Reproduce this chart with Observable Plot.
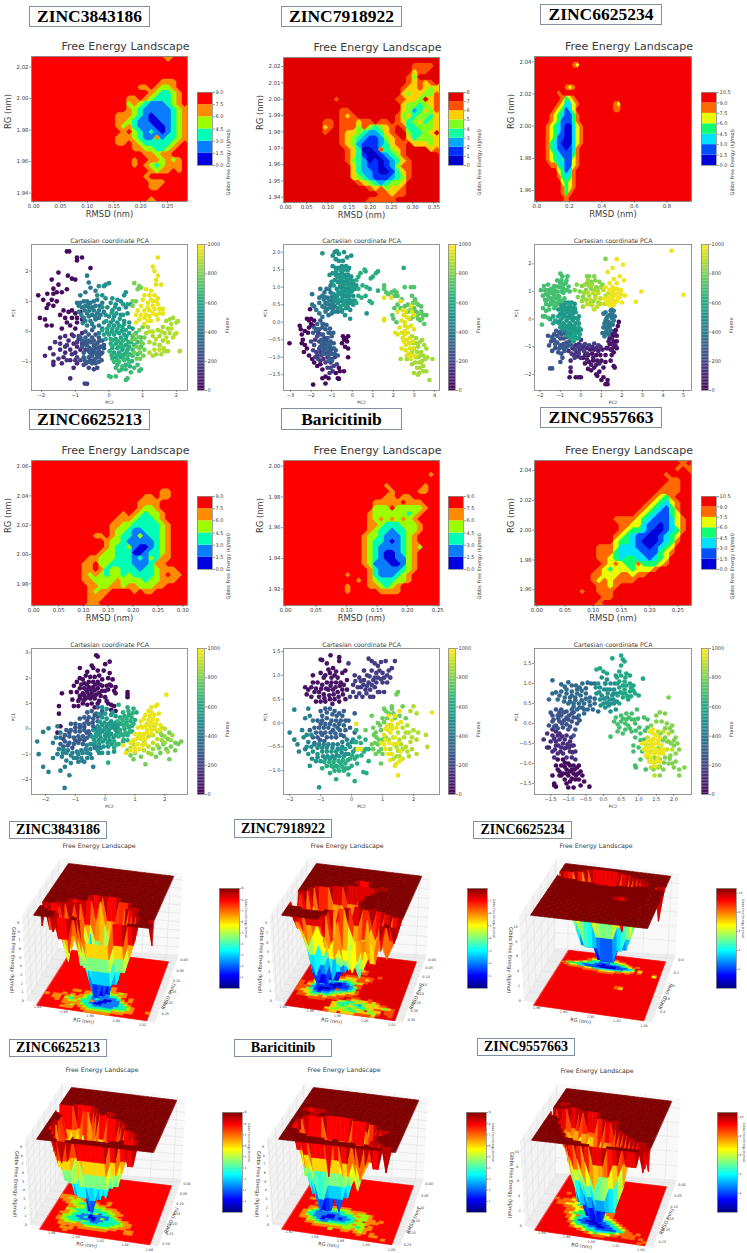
<!DOCTYPE html>
<html><head><meta charset="utf-8">
<script src="https://cdn.jsdelivr.net/npm/d3@7"></script>
<script src="https://cdn.jsdelivr.net/npm/@observablehq/plot@0.6"></script>
<style>
html,body{margin:0;padding:0;background:#fff}
#stage{position:relative;width:747px;height:1253px;overflow:hidden;background:#fff;font-family:"DejaVu Sans"}
.tag{position:absolute;box-sizing:border-box;border:1px solid #8090a4;background:#fff;color:#000;font-family:"Liberation Serif";font-weight:bold;text-align:center;white-space:nowrap}
</style></head><body><div id="stage"></div>
<script>
const names=["ZINC3843186","ZINC7918922","ZINC6625234","ZINC6625213","Baricitinib","ZINC9557663"];
const felLevels=[6,8,7,6,6,7];
const felSteps=[1.5,1,1.5,1.5,1.5,1.5];
const felCols=[28,28,42,28,28,28];
const felRows=26;
const rmsdDomains=[[-0.0043,0.2875],[-0.0047,0.3634],[-0.014,0.951],[-0.0046,0.3094],[-0.0033,0.2528],[-0.0041,0.2742]];
const rgDomains=[[1.9347,2.0268],[1.9367,2.0255],[1.9532,2.0433],[1.9652,2.0641],[1.9094,2.0037],[1.9494,2.0469]];
const rmsdTicks=[[0,.05,.1,.15,.2,.25],[0,.05,.1,.15,.2,.25,.3,.35],[0,.2,.4,.6,.8],[0,.05,.1,.15,.2,.25,.3],[0,.05,.1,.15,.2,.25],[0,.05,.1,.15,.2,.25]];
const rgTicks=[[1.94,1.96,1.98,2,2.02],[1.94,1.95,1.96,1.97,1.98,1.99,2,2.01,2.02],[1.96,1.98,2,2.02,2.04],[1.98,2,2.02,2.04,2.06],[1.92,1.94,1.96,1.98,2],[1.96,1.98,2,2.02,2.04]];
const rg3dTicks=[[1.94,1.96,1.98,2,2.02],[1.94,1.96,1.98,2,2.02],[1.96,1.98,2,2.02,2.04],[1.98,2,2.02,2.04,2.06],[1.92,1.94,1.96,1.98,2],[1.96,1.98,2,2.02,2.04]];
const palette6=["#0000e0","#0a7cff","#00ffb4","#9cff00","#ff8c00","#ff0000"];
const palette7=["#0000d8","#0050ff","#00e0ff","#10ff70","#e8ff00","#ff6a00","#f40000"];
const palette8=["#0000c8","#0030ff","#00a8ff","#10ffa0","#80ff20","#ffd000","#ff5000","#e00000"];
const jetStops=["#00007f","#0000ff","#007fff","#00ffff","#7fff7f","#ffff00","#ff7f00","#ff0000","#7f0000"];
const pcaXDomains=[[-2.3,2.33],[-3.34,4.24],[-2.26,5.39],[-2.47,2.76],[-2.2,2.84],[-1.96,2.5]];
const pcaYDomains=[[-1.95,2.88],[-1.95,2.22],[-2.58,2.7],[-2.59,3.17],[-1.5,1.563],[-1.775,1.875]];
const pcaXTicks=[[-2,-1,0,1,2],[-3,-2,-1,0,1,2,3,4],[-2,-1,0,1,2,3,4,5],[-2,-1,0,1,2],[-2,-1,0,1,2],[-1.5,-1,-.5,0,.5,1,1.5,2]];
const pcaYTicks=[[-1,0,1,2],[-1.5,-1,-.5,0,.5,1,1.5,2],[-2,-1,0,1,2],[-2,-1,0,1,2,3],[-1,-.5,0,.5,1,1.5],[-1.5,-1,-.5,0,.5,1,1.5]];
// sparse free-energy grids: [row, first column, level digits]; other cells hold the top level
const felA=[[0,24,"4"],[4,23,"444"],[5,19,"44"],[5,22,"4334"],[6,21,"432234"],[7,17,"4454322234"],[8,17,"3432111234"],[9,17,"43211111234"],[10,15,"4443210111234"],[11,15,"4432110011234"],[12,15,"4342111001234"],[13,16,"453212101234"],[14,15,"4443211412234"],[15,15,"445432222234"],[16,18,"44332234"],[17,20,"44344"],[18,18,"4"],[18,21,"443434"],[19,18,"454323444"],[20,21,"434454"],[21,20,"4"],[22,21,"444"],[23,21,"44"],[25,21,"4"]];
const felB=[[1,23,"6666"],[2,23,"566"],[3,22,"64"],[4,22,"65656"],[5,21,"6556545"],[6,21,"5455446"],[7,9,"6"],[7,20,"66554756"],[8,21,"5443456"],[9,10,"66"],[9,21,"5423546"],[10,10,"656"],[10,20,"64534435"],[11,7,"66"],[11,10,"666566"],[11,17,"66"],[11,20,"65345345"],[12,7,"56"],[12,10,"6664643456"],[12,21,"6334445"],[13,7,"6"],[13,10,"6554322356"],[13,22,"43345"],[14,10,"65432112456"],[14,22,"534445"],[15,10,"654211123566"],[15,23,"55545"],[16,11,"65300163456"],[16,26,"56"],[17,11,"65310012346"],[18,11,"643201012356"],[19,12,"53211012466"],[20,12,"53221001356"],[21,12,"54321112346"],[22,13,"654323445"],[23,15,"6564556"],[24,17,"66566"],[25,15,"66666"]];
const felC=[[1,10,"54"],[5,8,"545"],[6,6,"5"],[7,7,"5345"],[8,6,"542245"],[8,21,"54"],[9,5,"543124"],[9,21,"55"],[10,4,"54321135"],[11,4,"54311135"],[12,3,"5432100245"],[13,3,"5432100245"],[14,3,"5431100245"],[15,3,"5321000245"],[16,3,"532110125"],[17,3,"543211135"],[18,3,"543231145"],[19,4,"55321145"],[20,6,"43125"],[21,6,"53235"],[22,7,"4345"],[23,7,"5345"],[24,7,"535"],[25,8,"5"]];
const felD=[[5,23,"44"],[6,20,"44"],[6,23,"44"],[7,19,"4444"],[8,19,"4334"],[9,16,"4"],[9,18,"432334"],[10,15,"444322234"],[11,14,"44332222234"],[12,14,"43321122234"],[13,11,"44"],[13,14,"43221312234"],[14,13,"433211111234"],[15,13,"432231001234"],[16,12,"4332220012234"],[17,10,"443332221213244"],[18,9,"445332222111244"],[19,9,"44542332221223444"],[20,9,"434323323222234544"],[21,9,"44333343333233444"],[22,10,"44334434433344"],[23,10,"4344"],[23,18,"4544"],[24,10,"444"],[25,10,"44"]];
const felE=[[2,26,"4"],[4,18,"4"],[4,25,"4"],[5,19,"4"],[5,24,"44"],[6,18,"44"],[6,21,"44"],[7,16,"44444"],[7,22,"444"],[8,16,"3335333334"],[9,15,"4333333234"],[10,15,"434343434"],[11,15,"4432223334"],[12,15,"4322122334"],[13,14,"4332111234"],[14,14,"4322101234"],[15,14,"43211112343"],[16,14,"4321001234"],[17,14,"4321001134"],[18,14,"4311100134"],[19,15,"421111234"],[20,11,"4"],[20,15,"42111234"],[21,13,"4"],[21,15,"43222334"],[22,11,"4"],[22,15,"443234"],[23,11,"4"],[23,17,"4444"]];
const felF=[[0,26,"5"],[1,25,"5"],[1,27,"5"],[2,23,"5"],[3,24,"55"],[4,23,"555"],[5,22,"5555"],[6,21,"5435"],[7,20,"543245"],[8,19,"5432135"],[9,18,"54321134"],[10,14,"5555"],[10,18,"432111245"],[11,15,"55"],[11,17,"4421101245"],[12,15,"543321001235"],[13,14,"543211001234"],[14,14,"433210001235"],[15,11,"555"],[15,14,"42221101234"],[16,11,"555"],[16,14,"32222111345"],[17,11,"55"],[17,13,"43233221234"],[18,12,"545433533345"],[19,11,"54344434445"],[20,10,"5544455455"],[21,10,"54545555"],[22,11,"5545"],[23,8,"5"],[23,11,"555"],[24,12,"55"],[25,11,"5"]];
// PCA scatter points: [frame, PC2, PC1, PC2, PC1, ...]
const pcaA=[
[30,-1.25,2.65,-1.18,2.65,-.95,2.45,-.95,2.35,-.8,2.45,-.55,2.1,-1.5,1.95,-1.22,1.85,-1.7,1.72,-1.1,1.75,-1,1.72,-1.5,1.55,-1.65,1.42,-1.25,1.4,-1.4,1.3,-1.55,1.3,-1.65,1.25,-1.83,1.25,-2.1,1.2,-1.95,1.05,-1.7,1.05,-1.55,1,-1.8,.9,-1.65,.85,-1.85,.78,-2.05,.45,-1.9,.4,-1.85,.2,-1.7,.2,-1.45,.55,-1.35,.7,-1.3,.45,-1.2,.65,-1.1,.7,-1,.6,-.85,.65,-1.25,.3,-1.1,.45,-.95,.45,-1.15,.2,-.95,.3,-.8,.4,-1.4,.1,-1,.1],
[110,-1.75,-.55,-1.9,-.8,-1.65,-.75,-1.45,-.6,-1.3,-.7,-1.15,-.6,-1.65,-1,-1.65,-1.1,-1.4,-1.05,-1.35,-.85,-1.15,-.95,-1,-.7,-1.2,-.3,-1.05,-.4,-1.3,-.15,-1.1,-.1,-.9,-.25,-1.45,-.2,-.8,-.05,-1.15,-1.55,-.95,-1.05,-1.05,-1.2,-.85,-.6,-.95,-.5],
[150,-1.6,-.35,-1.45,-.4,-1.25,-.45,-1.1,-.75,-1.25,-.95,-1.5,-.9,-.95,-.35,-1.05,-.15,-1.3,-.5,-1,-.95],
[200,-.95,-.85,-.85,-.95,-.75,-1.1,-.6,-1.2,-.45,-1.25,-.35,-1.2,-.72,-1.72,-.65,-1.73,-.8,-.4,-.9,-.15,-.7,-.6,-.55,-.95],
[270,-.72,-.42,-.58,-.55,-.42,-.55,-.33,-.55,-.72,-.95,-.55,-.72,-.45,-.68,-.35,-.78,-.25,-.75,-.68,-.33,-.45,-.3,-.3,-.32,-.15,-.45,-.85,-.2,-.68,-1.05,-.45,-.95,-.22,-.95,-.15,-.55],
[290,-.8,-.3,-.7,-.2,-.6,-.1,-.5,-.2,-.4,-.1,-.3,-.2,-.2,-.3,-.8,-.5,-.65,-.45,-.55,-.35,-.45,-.45,-.35,-.4,-.25,-.5,-.75,-.7,-.6,-.65,-.5,-.6,-.4,-.7,-.3,-.65,-.2,-.7,-.75,-.85,-.6,-.85,-.5,-.8,-.4,-.9,-.3,-.85,-.6,-1,-.5,-1.05,-.4,-1.05,-.3,-1,-.6,-.3,-.7,0,-.5,.05],
[400,-.65,1.85,-.6,1.62,-.55,1.45,-.7,1.3,-.4,1.35,-.85,1.2,-.95,.95,-.85,.95,-.75,1,-.65,1,-.55,.95,-.45,1,-.8,.8,-.7,.85,-.6,.8,-.5,.8,-.4,.85,-.9,.65,-.65,.6,-.5,.55,-.35,.6,-.75,.45,-.55,.35,-.4,.4,-.3,.45,-.65,.2,-.45,.15,-.3,.2,-.2,.1,-.3,-.05],
[420,-.72,.7,-.58,.7,-.45,.7,-.3,.7,-.82,.55,-.7,.35,-.42,.5,-.25,.55,-.6,.5,-.15,.65,-.5,.25,-.78,.28,-.9,.85,-.28,.85,-.62,.9,-.35,1.05,-.2,.95],
[500,-.35,1.2,-.1,1.55,0,1.6,-.15,1.5,-.3,1.5,-.2,1.2,-.1,1.1,.1,1.1,.25,1.05,.45,1.2,.5,1.3,.35,1,.2,.9,.05,.95,-.05,.8,-.2,.8,.1,.7,.3,.75,.5,.8,.15,.5,.35,.55,0,.5,-.1,.55,.55,.6,.65,.9,-.15,.3,.05,.3,.25,.3,.45,.35,.6,.3],
[560,0,.2,.15,.2,.3,.2,.45,.25,-.08,.35,.12,.38,.32,.42,.42,.55,.08,.62,.22,.6,.18,.8,.42,.9,.55,.9,.6,.15,.7,.1,-.05,-.02,.08,0,.22,0,.38,.02,.52,-.15],
[590,-.2,.05,-.05,.1,.1,.1,.25,.1,.4,.15,.5,.05,-.15,-.1,0,-.1,.15,-.1,.3,-.05,.45,-.1,.6,-.05,-.1,-.25,.05,-.25,.2,-.25,.35,-.2,.5,-.25,.05,-.4,.2,-.4,.35,-.4,.5,-.45,.65,-.35,.1,-.55,.25,-.55,.4,-.6,.55,-.6,.15,-.7,.3,-.7,.45,-.75,.2,-.85,.35,-.85],
[640,.12,-.28,.28,-.32,.42,-.3,.58,-.35,.1,-.48,.3,-.5,.42,-.5,.6,-.5,.02,-.65,.08,-.78,.25,-.78,.38,-.78,.52,-.68,.62,-.75,.1,-.9,.25,-.95,.42,-.88,.55,-.9,.68,-.98,.25,-1.1,.38,-1.25,.62,-1.15,.5,-1.1],
[680,0,-1.47,.05,-1.5,.2,-1.48,.5,-1.6,.55,-1.55,.2,-1.2,.3,-1.3,.4,-1.15,.5,-1.25,.65,-1.35,.15,-1,.3,-1,.45,-.95,.6,-1,.7,-.8,.55,-.8,.75,-1.2,.85,-1.1,.95,-1.25,.9,-1.3,.7,-.6,.85,-.75,.75,-.45,.85,-.35,.95,-.2,.7,-.15,.8,-.05,.95,-.5],
[780,.78,-.25,.88,-.18,.68,-.28,.82,-.5,.95,-.35,.75,-.7,.92,-.7,1.02,-.8,.82,-.9,.92,-.9],
[790,.7,.85,.8,1,.75,1.6,.85,1.4,.9,1.5,.95,1.45,.7,1,.75,-.1,.9,.05,1,.15,1.05,-.2,1,-.4,.9,-.55,1.05,-.6],
[870,1.2,-.7,1.3,-.8,1.4,-.75,1.55,-.75,1.65,-.65,1.75,-.65,2.1,-.65,1.2,-.35,1.35,-.4,1.5,-.45,1.6,-.3,1.5,-.15,1.3,-.15,1.65,-.05,1.8,-.05,1.95,-.1,1.75,.1,1.6,.15,1.85,.25,2,.3,1.9,.45,2.05,.35,1.7,.35,1.8,.4,1.45,.05,1.1,-.05,1.15,.15],
[900,1.35,-.6,1.5,-.6,1.62,-.55,1.75,-.35,1.9,-.2,2,-.05,1.55,0,1.4,-.25,1.85,.1,1.2,0,1.7,-.2,1.3,0],
[960,1.45,2.45,1.3,2.15,1.35,2,1.45,1.85,1.4,1.7,1.4,1.55,1.55,1.55,1.25,1.35,1.1,1.4,1.05,1.2,1.2,1.2,1,1.05,1.15,.95,1.3,1,1.45,1.1,1.6,.75,.85,.7,1.05,.7,1.2,.7,1.35,.75,1.5,.75,1.4,.55,1.2,.5,1.05,.45,1.6,.6,.9,.4,1.05,.25,.8,.3,1.25,.35,1.45,.4],
[970,1.15,.8,1.3,.85,1.45,.9,.95,.85,1.1,.55,1.3,.6,1.5,.6,1.15,.35,.95,.55,1.35,1.2,1.25,1.05,1.4,1,.8,.55]];
const pcaB=[
[20,-3.05,-.6,-2.55,-.1,-2.5,-.2,-2.45,-.35,-2.3,-.25,-2.15,-.3,-2.4,-.5,-2.45,-.6,-2.3,-.65,-2.2,-.75,-2.35,-.85,-2.1,-.15,-2,-.05,-2.1,.05,-2,.1,-1.85,.05,-1.9,-.1,-2.2,.1,-2.05,.37,-2.1,-.95,-1.95,-1.05,-1.85,-1.15,-1.7,-1.25,-1.55,-1.2,-1.45,-1.35,-1.3,-1.55,-1.15,-1.6,-1.9,-1.78,-1.45,-1.6,-1.3,-1.75,-.8,-1.45,-.7,-1.6,-.65,-1.62,-.4,-1.4,-.45,-.4,-.4,-.5,-.3,-.45,-.5,-.6,-.35,-.7,-.25,-.55,-.2,-.75,-.2,-.4,-.2,-1,-.6,-1.4,-.65,-1.3],
[150,-1.65,-.3,-1.8,-.5,-1.4,-.6,-1.25,-.55,-1.55,-.85,-1.7,-.95,-1.2,-1,-1.4,-1.05,-1.05,-1.15,-1.55,-1.1,-.95,-1.4,-1.1,-1.45],
[200,-2,-.55,-1.85,-.65,-1.7,-.4,-1.6,-.55,-1.5,-.35,-1.35,-.45,-1.9,-.8,-1.75,-.85,-1.6,-.75,-1.45,-.7,-1.3,-.65,-1.15,-.6,-1.8,-1,-1.65,-1.05,-1.5,-.95,-1.35,-.9,-1.2,-.85,-1.05,-.8,-1.3,-1.15,-1.15,-1.1,-1,-1.05,-.85,-1,-1.2,-1.3,-1.05,-1.3,-.9,-1.25,-.75,-1.2],
[290,-1.9,-.3,-1.75,-.25,-1.6,-.2,-1.45,-.15,-1.3,-.2,-1.15,-.3,-1,-.4,-1.5,-.5,-1.35,-.55,-1.2,-.45,-1.05,-.55,-.9,-.6,-1.55,-.7,-1.4,-.8,-1.25,-.75,-1.1,-.7,-.95,-.75,-.8,-.8,-1.15,-.95,-1,-.9,-.85,-.9,-.7,-.95,-1.1,-.3,-1.7,-.05,-1.55,.05,-1.4,-.05],
[310,-1.42,-.35,-1.2,-.6,-1.08,-.65,-1.48,-.6,-1.32,-.7,-1.18,-.8,-1.05,-.9,-.88,-.75,-1.7,-.2,-1.85,-.15,-1.45,-.05,-1.25,-.08,-1.08,-.18,-.92,-.3,-1.42,-.9,-.98,-1.1,-1.12,-1.08],
[390,-1.95,.8,-1.95,.5,-1.85,.45,-1.75,.35,-1.6,.25,-1.45,.15,-1.3,.3,-1.15,.2,-1,.25,-1.6,.55,-1.45,.45,-1.3,.55,-1.6,.7,-1.45,.75,-1.55,.95,-1.35,.85,-1.2,.7,-1.1,.5,-1.25,.95,-1.05,.85,-.95,.6,-.95,.35,-.85,.45,-1.05,1.05,-.7,.3],
[420,-1.35,.42,-1.2,.38,-1.02,.42,-.85,.3,-1.38,.65,-1.22,.52,-1.12,.62,-1.35,.72,-1,.72,-.92,.5,-1.12,.95,-.82,.7],
[500,-1.45,1.97,-.95,1.9,-.85,2,-.75,2.03,-.65,1.95,-.4,2,-.25,1.85,-.05,1.9,-.8,1.8,-.65,1.75,-.45,1.75,-.95,1.6,-.8,1.55,-.65,1.55,-.5,1.6,-.3,1.6,-.15,1.55,-1.1,1.35,-.95,1.4,-.8,1.35,-.65,1.35,-.5,1.4,-.35,1.35,-.2,1.35,-.05,1.3,-1,1.15,-.85,1.2,-.7,1.15,-.55,1.2,-.4,1.15,-.25,1.15,-.1,1.1,.05,1.1,.2,1.05,-.75,.95,-.6,1,-.45,1,-.3,.95,-.15,.95,0,.9,-.9,.8,-.75,.75,-.6,.8,-.45,.8,-.3,.75,-.15,.75,.05,.75,-.85,.6,-.7,.55,-.55,.6,-.4,.6,-.25,.55,-.1,.55,.05,.5,-.7,.4,-.5,.35,-.3,.4,-.35,.2,-.5,.3,-.1,.35,-.1,.1,.7,.25],
[540,-.68,.85,-.52,.9,-.38,.88,-.22,.85,-.08,.85,.12,.95,-.58,1.1,-.42,1.08,-.3,1.08,-.18,1.05,-.02,1.02,.12,.98,-.72,1.28,-.58,1.28,-.42,1.28,-.28,1.25,-.12,1.22,.02,1.18,-.9,1.05,-.78,1.45,-.55,1.48,-.4,1.5,-.22,1.48,-.7,.65,-.48,.7,-.32,.62,-.18,.65,-.02,.62,.12,.62,-.58,.45,-.42,.5,-.22,.45],
[620,.6,1.5,.65,1.45,.4,1.4,.3,1.3,.2,1.2,.3,.95,.5,1.05,.7,1,.85,.95,.3,.75,.45,.7,.65,.75,.85,.6,.95,.55,.2,.55,1,1.3,1.15,1.4,1.25,1.45,.9,1.25,1.25,.9,2.5,1.55],
[730,1.55,1.05,1.55,.95,1.65,.85,1.75,.8,1.9,.85,2.05,.9,2.15,.85,2.2,.75,2.05,.75,2.4,.65,2.55,1,2.85,1,3,1,2.9,.75,3.05,.65,2.7,.5,3.2,.5,3.35,.45,3,.4,3.1,.3,3.35,.3,3.45,.2,3.6,.2,2.7,.3,2.55,.45,2.35,.4,2.2,.5,2.05,.4,1.95,.2,2,.1,2.15,0,3.2,.1,3.3,.05,3.5,-.05],
[780,3.1,.55,2.95,.55,2.85,.4,3.25,.25,3.15,.18,2.95,.15,2.85,.1,3.4,.1],
[860,2.9,-.4,3.1,-.45,3.3,-.55,3.4,-.5,3.5,-.65,3.2,-.7,3,-.75,2.8,-.6,3.15,-.85,3.35,-.85,3.6,-.75,3.2,-1,3.4,-1.1,3.55,-1.05,3.65,-1,3.9,-1.05,3.3,-1.3,3.45,-1.25,3.6,-1.4,3.45,-1.4,3.25,-1.45,3,-1.45,3.2,-1.5,3.75,-1.65,3.05,-1.15,2.9,-1.2,2.65,-1.05,2.35,-1.05],
[870,2.95,-.6,3.05,-.6,3.2,-.6,2.9,-.85,3.3,-.95,3.1,-1,3.25,-1.15,3.45,-.95,3.15,-1.3,3.35,-1.15],
[950,1.55,.7,1.55,.1,1.55,.05,1.9,.7,2.2,.3,2.35,.6,2.5,.2,2.6,.3,2.75,.1,2.9,.3,3,.2,2.4,.05,2.55,0,2.3,-.15,2.4,-.3,2.55,-.25,2.7,-.3,2.65,-.5,2.5,-.55,2.8,-.75,2.6,-.8,2.4,-.75,2.65,-.95,2.85,-.95,2.95,-.55,3.05,-.95,2.2,-.35,2.1,-.3,3,-.2,2.45,-.45,2.6,-.65,2.75,-.6,2.8,-.45,2.55,-.1,2.7,-.15,2.85,-.1,2.75,-.9,2.95,-.75,2.85,-1.05,2.55,-.35,2.45,.35,2.65,.15,2.85,.45]];
const pcaC=[
[40,1.2,-2.35,1.3,-2.35,1.3,-2.2,1.1,-2.1,1,-2.2,.8,-2.05,.75,-2,.5,-1.85,.35,-1.8,.65,-1.75,.9,-1.9,1.1,-1.75,1.6,-1.7,1.65,-1.75,1.2,-1.55,1,-1.5,.8,-1.5,.6,-1.5,.4,-1.55,.2,-1.6,.1,-1.4,.35,-1.3,.55,-1.25,.75,-1.3,.95,-1.3,1.2,-1.3,1.45,-1.5,1.5,-1.3,1.6,-1.2,1.45,-1.1,1.25,-1.05,1.6,-1,1.75,-1.05,1.4,-.9,1.6,-.8,1.75,-.8,1.4,-.7,1.6,-.6,1.75,-.6,1.55,-.45,1.7,-.4,1.45,-.55,1.8,-.25,1.85,-.1,-.5,-1.9,-.55,-2.1,-.25,-2.1,0,-2.1,-.1,-2.1],
[80,1.3,-1.05,1.35,-.55,1.5,-.7,1.55,-.9,1.68,-.95,1.65,-.5,1.35,-.8,1.5,-1.1,1.05,-1.1,.85,-1.15,.65,-1.1,.45,-1.1,.2,-1.3,.6,-1.4,.9,-1.6,.75,-1.65,.5,-1.65,.3,-1.45],
[120,-.5,-1.75,-.5,-1.5,-.35,-1.3,-.2,-1.2,-.05,-1.1,.1,-1,.3,-1.05,.55,-1,.75,-1.05,.95,-1,.3,-1.25,-.15,-1.35,0,-1.4,-.6,-1.15,-.4,-1.05,-.25,-.95,-.1,-.9,0,-.75],
[180,-.3,-1.1,-.15,-1,0,-.95,.15,-1.15,-.45,-1.25,-.3,-1.4,.4,-.95,.65,-.88,.85,-.95,-.1,-1.25,.2,-.9],
[250,-1.5,-1.78,-1.4,-1.78,-1,-1.55,-.9,-1.4,-1.1,-1.2,-.95,-1.25,-.8,-1.15,-1.4,-1.15,-1.25,-1.05,-1.55,-.95,-1.6,-.6,-1.45,-.8,-1.3,-.75,-1.15,-.85,-1,-.95,-.85,-.9,-.7,-.85,-.55,-.8,-1.3,-.55,-1.15,-.6,-1,-.7,-.85,-.7,-.7,-.65],
[290,-1.2,-.42,-1.05,-.48,-.95,-.55,-.78,-.52,-.65,-.5,-1.4,-.65,-1.25,-.9,-1.05,-1.05,-.85,-1.05,-.7,-1,-.6,-.95,-.45,-.95],
[380,1.1,.2,1.3,.1,1.45,.3,1.6,.3,1.2,-.05,1.35,-.1,1.5,.05,1.65,.1,1.1,-.3,1.25,-.3,1.4,-.3,1.55,-.2,1.05,-.5,1.2,-.5,1.35,-.55,1.5,.35,-.9,-.4,-.7,-.45,-.5,-.55],
[400,1.2,.25,1.4,.15,1.55,.15,1.25,.02,1.15,-.15,1.3,-.2,1.45,-.15,1.6,-.05,1.45,-.42,1.25,-.42,1.15,-.62],
[530,-1.15,-.1,-1,-.05,-.85,-.15,-.7,-.05,-.55,-.15,-.4,-.05,-.25,-.15,-1,.2,-.85,.15,-.7,.25,-.55,.15,-.4,.2,-.25,.25,-.1,.1,-1.1,.35,-.95,.4,-.8,.45,-.65,.4,-.5,.45,-.35,.4,-1,-.3,-.85,-.35,-.7,-.3,-.55,-.35,-.4,-.3,-.25,-.35,-.1,-.15,-.6,.6,-.45,.6,-.3,.55,-.75,.6],
[550,-1.1,.1,-.9,.05,-.75,.1,-.6,.05,-.45,.05,-.3,.05,-.15,0,-1.05,-.15,-.92,-.25,-.78,-.22,-.62,-.25,-.48,-.22,-.32,-.25,-.6,-.45,-.42,-.42,-.25,-.48,-.12,-.45,0,-.38,-.7,-.6,-.55,-.6,-.42,-.65,-.28,-.65,-.1,-.68,-.9,.3,-.72,.33,-.58,.3,-.42,.32,-.28,.38,-.98,.52,-.82,.58,-.6,.42,-.5,.25],
[580,-.2,-.5,-.35,-.55,-.5,-.7,-.35,-.8,-.2,-.7,-.05,-.55,-.6,.55,-1.35,.1,-1.35,-.15,-1.5,0,-1.8,.1,-.1,-.3,-1.25,-.05],
[700,-1.95,1.05,-1.8,1.2,-1.6,1.25,-1.45,1.1,-1.3,1.2,-1.15,1.4,-1,1.65,-.9,1.55,-.95,1.4,-.65,1.55,-.7,1.4,-.85,1.25,-1,1.15,-1.15,1,-1.3,.95,-1.5,.95,-1.7,.9,-1.85,.85,-1.65,.7,-1.45,.75,-1.25,.75,-1.05,.8,-.85,.95,-.7,1.05,-.55,1,-1.15,.6,-.95,.65,-.8,.75,-1.55,.5,-1.4,.55,-1.85,.4,-1.7,.3,-1.9,-.2,-1.85,.1,-1.75,.1,-1.6,.05,-1.3,.4,-1.6,1.05,-1.3,1.05,-1.15,1.18,-1.42,.95,-.95,1,-1.75,1.05,-1.6,.85,-1.3,.85,-1.1,.85,-1.45,.62,-1.2,.5,-1.05,.72,-1.7,.55,-1.55,.35,-1.35,.62,-1.75,.7,-.85,1.1,-.6,1.18,-.75,1.3,-1,1.3],
[810,1.2,2.18,.3,1.55,.4,1.55,.65,1.55,.7,1.4,.5,1.35,.3,1.3,.05,1.2,-.2,1.25,-.3,1.05,-.05,1,.25,1.05,.5,1.1,.75,1.15,.9,1.35,1.05,1.25,-.15,.8,.1,.8],
[850,.2,1.25,.4,1.2,.55,1.25,.65,1.05,.8,1.05,.15,.95,.4,.85,.7,.85,.05,.65,.25,.7,.45,.55,.6,.65,.85,.6,.1,.45,.95,1.15,.35,1.4],
[900,.35,.95,.6,.95,.85,.95,.45,.7,.7,.75,.95,.75,.3,.55,.55,.5,.8,.45,1.1,1.05,1.2,.85,1.35,.95,.95,.55,1.15,.55,.65,.35],
[975,4.42,2.47,5,.88,2.95,1,2.68,.63,1.75,2.17,2.05,1.97,1.55,1.85,1.3,1.7,1.9,1.55,1.6,1.45,1.4,1.3,2.1,1.4,1.75,1.3,1.55,1.15,1.75,1.1,1.95,1.05,2.15,.85,1.5,.95,1.7,.9,1.9,.8,1.35,.75,1.55,.7,1.75,.65,2,.6,1.4,.5,1.2,1.15,1.3,.55,1.6,.5,1.4,1.05,1.6,1.05,1.85,1,1.45,.82,1.6,.85,1.8,.75,1.35,.62,1.5,.6,1.65,.6,1.15,.75,1.25,.65,1.95,.9]];
const pcaD=[
[30,-.3,2.9,-.25,2.85,.15,2.65,0,2.55,-.45,2.5,-.85,2.4,-.4,2.4,-.6,2.25,-.25,2.3,-.05,2.3,.15,2.2,-.85,2,-.75,1.95,-.65,2.1,-.5,2.05,-.35,2.05,-.2,2.1,-.1,1.95,.1,2,.25,1.95,-.95,1.85,-.7,1.8,-.55,1.85,-.4,1.85,-.25,1.85,-.1,1.7,.05,1.7,.2,1.7,.35,1.65,-1.05,1.7,-.85,1.6,-.7,1.6,-.55,1.65,-.4,1.65,-.25,1.6,-.1,1.5,.1,1.55,.3,1.5,-1.45,1.4,-1.15,1.45,-.95,1.45,-.75,1.4,-.6,1.45,-.45,1.4,-.3,1.35,-.15,1.3,0,1.25,.75,1.45,.75,1.35,.75,1.25,-1.1,1.15,-.85,1.2,-.65,1.2,-.5,1.2,-.35,1.2,-.2,1.1,-1.55,.9,-1.55,.6,-1.05,.9,-.9,.9,-.75,1,-.6,.95,-.45,1,-.35,.85,.1,1,.2,.95,.3,.9,.2,.75,.35,.7,-1.5,.1,-1.6,-.15],
[50,-.8,1.75,-.62,1.75,-.32,1.75,-.48,1.55,-.18,1.75,-.62,1.52,-.35,1.52,-.85,1.3,-.55,1.32,-.4,1.28,-.2,1.42,0,1.5,.15,1.75,-.7,1.3,-.9,1.1,-.72,1.12,-.25,1,.05,1.1,.35,1.4],
[250,-.35,0,-.5,-.25,-1.4,-.7,-1.25,-.65,-1.1,-.75,-1,-.45,-.85,-.42,-.7,-.45,-.62,-.15,-1.4,-.4,-1.2,-.15,-1,.05,-.85,.05,-.7,.08,-.6,.32,-.42,.25,-.35,.55,-.25,.48,-.15,.55],
[300,-1.5,-.6,-1.35,-.5,-1.2,-.55,-1.05,-.6,-.9,-.55,-.75,-.6,-1.5,-.35,-1.35,-.25,-1.2,-.3,-1.05,-.35,-.9,-.3,-.75,-.3,-.6,-.35,-1.3,-.05,-1.15,-.05,-1,-.1,-.85,-.1,-.7,-.05,-.55,-.1,-1.15,.2,-1,.2,-.85,.15,-.7,.2,-.55,.2,-.4,.1,-.85,.4,-.7,.45,-.55,.45,-.4,.4,-.25,.3,-.6,.65,-.45,.7,-.3,.6,-.25,.85,-.1,.7],
[420,-2.28,-.5,-2.23,-1,-2.08,-1.5,-1.9,-1.7,-2.08,-.12,-1.9,.02,-1.36,-2.33,-1.2,-1.83,-1.5,-1.65,-1.35,-1.5,-1.75,-1.15,-1.6,-1,-1.45,-1.1,-1.3,-1.25,-1.15,-1.35,-1.55,-.8,-1.4,-.8,-1.25,-.85,-1.1,-.95,-.95,-.9,-.8,-.85,-.65,-.8,-.5,-.8,-.35,-.75,-.95,-1.15,-.8,-1.15,-.7,-1.3,-.4,-1.5,-1.75,-.55,-1.65,-.35,-1.5,-.15,-1.6,.1,-.9,-1.3],
[440,-1.15,-1.05,-1.05,-1.15,-.9,-1,-.75,-.95,-.6,-.95,-.5,-1,-.6,-1.15,-.78,-1.25,-.45,-1.15,-1.3,-.95,-1.42,-.95,-.2,-.95,-.28,-.7,-.4,-.62,-.15,-.75,-.62,-.65],
[520,-.5,-.6,-.35,-.55,-.2,-.6,-.05,-.7,.1,-.7,-.45,-.3,-.3,-.3,-.15,-.35,0,-.4,.15,-.45,-.4,-.05,-.25,-.1,-.1,-.1,.05,-.15,.2,-.2,-.25,.1,-.1,.15,.05,.1,.2,.05,.35,-.05,-.1,.45,.05,.4,.2,.3,.35,.25,.5,.2,-.1,.85,.3,-.9,.1,-.95,-.1,-.95,-.25,-.85],
[540,-.38,-.42,-.22,-.45,-.08,-.5,.08,-.55,.22,-.6,-.3,-.2,-.18,-.2,0,-.25,.12,-.3,.28,-.35,-.18,0,-.02,0,.12,-.05,.28,.05,.42,.05,-.18,.28,-.02,.25,.12,.2,.25,.15,.38,.12,-.2,.58,0,.6,.2,.55,.35,.5,.05,.78,.25,.65,.12,-.18,.4,-.12],
[610,.3,-.75,.45,-.6,.6,-.5,.3,-.5,.45,-.3,.6,-.25,.75,-.25,.35,-.25,.5,-.05,.65,0,.8,.05,.9,-.1,.55,.2,.7,.25,.85,.3,1,.35,.5,.45,.65,.5,.8,.55,1.05,.65,.45,.95,.75,.85,.95,.8,.1,-1.33],
[640,.52,-.2,.68,-.15,.82,-.12,.95,.2,.62,.12,.75,.15,.9,.12,.42,.3,.58,.35,.72,.4,.88,.45,.6,.65,.78,.7,.92,.62,.62,-.42,.75,-.45,.9,-.55,.38,-.62],
[780,.75,-.85,.85,-1.05,.95,-1.2,1,-.95,1.35,-1.4,1.2,-1.1,2.15,-1.2,2.35,-.85,2.45,-.6,2.55,-.5,2.35,-.55,2.2,-.7,2.05,-.8,1.85,-.95,1.7,-1.1,2.1,-.4,1.95,-.6,1.8,-.75,1.9,-.25,2.15,-.15],
[850,1.9,-.45,1.75,-.65,1.6,-.8,1.45,-.95,2,-.55,2.2,-.45,2.25,-.25,1.85,-.15,2,-.3,1.55,-1,2.1,-.9],
[900,1.75,-.4,1.6,-.55,1.45,-.7,1.3,-.55,1.3,-.85,1.6,-.25,1.45,-.3,1.75,-.1,1.9,.05,2,0,1.65,.1,.85,-.75,.95,-.6],
[965,2.05,1.35,1.75,.95,1.7,.9,1.55,.85,1.45,.7,1.8,.6,1.65,.55,1.5,.5,1.35,.55,1.2,.3,1.4,.2,1.55,.25,1.7,.2,1.85,.15,1.1,.05,1.25,.05,1.4,-.05,1.55,-.05,1,-.2,1.15,-.2,1.3,-.2,1.05,-.4,1.2,-.4,1.35,-.4,.85,-.55,1,-.75,1.15,-.8,.7,-.95,.6,-.65,1.2,.1,1.35,.1,1.5,.1,1.65,0,1.8,-.05,1.3,.4,1.45,.35,1.6,.38,1.75,.35,1.1,-.35,1.25,-.3,1.4,-.18,1.55,-.18,.95,-.45,1.1,-.6,1.25,-.65,1.35,-.6,1,-.9,.85,-.85,1.55,.65]];
const pcaE=[
[40,-1,1.33,-.95,1.32,-.68,1.42,-.4,1.38,-.4,1.3,-.8,1.25,-.6,1.15,-.75,1.12,-1.25,1,-1,1.05,-.85,1,-.7,1.05,-.55,1,-.3,1.05,-.2,1.1,-1.5,.75,-1.4,.7,-1.25,.85,-1.1,.85,-.95,.8,-.8,.85,-.65,.85,-.5,.85,-.35,.85,-.15,.9,-1.45,.6,-1.2,.65,-1.05,.65,-.9,.6,-.75,.7,-.6,.7,-.45,.65,-.3,.7,-.15,.7,-1.15,.45,-1,.45,-.85,.45,-.7,.5,-.55,.5,-.4,.45,-.2,.5],
[60,-1.3,.75,-1.15,.72,-.98,.72,-.82,.72,-.68,.78,-.52,.75,-.38,.78,-.25,.8,-1.05,.55,-.88,.52,-.72,.58,-.58,.6,-.42,.55,-.28,.6,-.9,.95,-.65,.95,-.45,.95,-1.3,.55,-.62,.4,-.5,1.08],
[170,-.1,1.25,.1,1,.25,.95,.4,1.1,.55,1.35,.65,1.3,.75,1.25,.85,1.2,.95,1.28,1.1,1.3,1.4,1.3,1.2,1.1,1.3,1.15,1,1.05,.8,1.05,.65,1.1,.5,1,.4,.9,.55,.85,.7,.9,.85,.95,1,.85,1.15,.85,.3,.75,.45,.7,.6,.7,.75,.75,.9,.65,.05,.8,.2,.75,.15,.55,.35,.55,.6,.55,.7,.55,1.05,.65],
[190,.05,.65,.25,.62,.38,.8,.5,.78,.65,.8,.8,.85,.95,.92,.12,.88,.3,.88,.58,.98,.75,.95,.9,1.1,1.05,.95,1.15,1,.48,.62,.85,.65,-.05,.55,1.25,.95],
[300,-1,.25,-.85,.3,-.7,.3,-.55,.25,-.4,.2,-.25,.25,.1,.2,-1.1,.05,-.95,.05,-.8,.1,-.65,.05,-.5,.05,-.35,.05,-.2,.05,-1.2,-.1,-1.05,-.1,-.9,-.1,-.75,-.1,-.6,-.15,-.45,-.1,-1.35,-.15,-1.25,-.3,-1.1,-.3,-.95,-.25,-.8,-.3,-.65,-.3,-.5,-.3,-.35,-.25,-.2,-.15,-.05,-.1,.1,-.2],
[310,-.95,.15,-.8,.22,-.62,.18,-.48,.15,-.3,.15,-1,-.02,-.85,-.02,-.7,-.02,-.55,-.05,-.4,-.02,-.25,-.05,-.1,.05,-1.15,-.2,-1,-.2,-.85,-.2,-.68,-.2,-.52,-.22,-.38,-.15,-.25,-.28,-1.2,-.42,-1.02,-.36,-.88,-.38],
[430,-1.85,.28,-2,-.2,-1.6,-.15,-1.85,-.35,-1.75,-.45,-1.4,-.4,-1.5,-.55,-1.7,-.6,-1.2,-.45,-1.05,-.45,-.9,-.45,-.75,-.45,-.6,-.45,-.45,-.45,-.3,-.4,-.15,-.35,-1.35,.15,-1.5,.1,-1.4,.3,-1.25,.05],
[480,-1.3,-.25,-1.45,-.25,-1.55,-.3,-1.3,-.5,-1.45,-.5,-1.1,-.52,-.95,-.52,-.8,-.52,-.62,-.52,-.45,-.55,-.3,-.5,-.12,-.45,0,-.4,-1.28,-.75,-1.1,-.72,-.92,-.7,-.78,-.7,-.62,-.7,-.48,-.68,-.32,-.62,-.18,-.65,.05,-.35],
[540,-1.4,-.65,-1.25,-.6,-1.1,-.65,-.95,-.6,-.8,-.6,-.65,-.6,-.5,-.6,-.35,-.55,-.2,-.55,-.05,-.5,-1.15,-.8,-1,-.8,-.85,-.75,-.7,-.75,-.55,-.75,-.4,-.7,-.25,-.7,-1.35,-.9,-.1,-.65,.05,-.6,-1.05,-1.35],
[620,-.95,-.95,-.8,-.9,-.65,-.9,-.5,-.9,-.35,-.85,-.2,-.85,-.05,-.75,.1,-.75,.2,-.55,.3,-.55,.4,-.6,.55,-.55,-.7,-1.05,-.55,-1,-.4,-1,-.25,-1,-.1,-.95,-.5,-1.18,-.1,-1.08,.1,-1.22,.38,-1.03,.48,-1.05,.55,-.8,.1,-.4,.25,-.3,.45,-.35,.15,-.15,-.88,-.82,-.72,-.82,-.58,-.82,-.42,-.8,-.28,-.78,-.12,-.78,.02,-.68,.18,-.7,.32,-.68,.45,-.55,-.6,-.92,-.45,-.92,-.3,-.92,-.18,-.95,0,-.9,.12,-.55,.15,-.4,.3,-.42,.18,-.85],
[770,.65,-.45,.8,-.3,.95,-.15,.7,-.1,.85,0,1,.1,1.15,.1,1.3,.3,1.45,.6,1.5,.65,1.65,.35,1.3,.35,.95,-.55,.7,-.55,.85,-.45,.65,.15,.45,-.15,1,-.35,1.25,-.05,1.1,-.3,1.4,.1,1.55,.15,1.75,.1,.95,-.85,.75,-.42,.88,-.35,.78,-.2,.92,-.05,1.05,.02,1.1,.25,1.2,.2,1.35,.2,.88,-.6,1,-.65,.78,-.65,.72,-.25,1.05,.3],
[880,1.2,-.35,1.35,-.3,1.5,-.2,1.65,-.1,1.8,-.05,1.9,.25,2,.35,2.1,.2,2,-.15,2.15,-.2,2.1,-.35,2.4,-.25,2.45,-.5,1.9,-.4,1.75,-.5,1.6,-.45,1.45,-.5,1.85,-.7,2.1,-.65,1.65,-.75,1.45,-.7,1.25,-.55,1.55,-.35,1.7,-.3,1.85,-.2,1.95,-.3,1.5,-.58,1.65,-.55,1.4,-.45,1.8,-.6,1.55,-.7,1.35,-.75,1.95,-.55,1.75,-.2],
[965,2.6,.22,.15,-.02,.2,-.55,.3,-.55,1.15,-.05,1.3,-.05,1.45,-.1,1.6,.02,1.2,.15,1.4,.15,1.55,.25,1.05,-.25,1.25,-.2,1.4,-.3,1.1,-.55,1.3,-.65,1.45,-.85,1.4,-.9,1.55,-.8,1.5,-1.1,1.6,-.75,1.05,-.45,1.18,-.15,1.32,-.12,1.5,-.02,1.3,.05,1.1,-.12,1.22,-.42,1.35,-.45,1.5,-.42,1.18,-.65,1.25,-.78,1.1,-.35,.95,-.42,1.58,-.6]];
const pcaF=[
[30,-1.4,-1.5,-1.35,-1.58,-1.4,-1.55,-.4,-1.58,-.55,-1.45,-.65,-1.55,-.85,-1.6,-1,-1.6,-.7,-1.4,-.8,-1.4,-.95,-1.45,-1.1,-1.4,-1.25,-1.3,-1.45,-1.3,-1.3,-1.15,-1.15,-1.25,-1,-1.3,-.85,-1.25,-.65,-1.2,-.75,-1.1,-.9,-1.15,-1.05,-1.15,-1.2,-1.05,-1.35,-1.05,-.7,-1.05,-.85,-1.05,-1,-1,-1.15,-.9,-1.3,-.9,-1.25,-1.2,-1.1,-1.08,-.95,-1.05,-.82,-1.15,-.72,-1.25,-1.05,-1.25,-.95,-1.2,-.78,-1.3,-1.2,-1.3,-1.05,-1.5,-.9,-1.38,-.6,-1.3,-1.1,-.98],
[130,-1.7,-.4,-1.6,-.25,-1.55,-.6,-1.5,-.45,-1.45,-.7,-1.4,-.85,-1.35,-.55,-1.3,-.75,-1.25,-.4,-1.2,-.6,-1.15,-.75,-1.05,-.85,-.9,-.85,-1.05,-.6,-.95,-.7,-.8,-.7,-1.1,-.4,-.95,-.45,-.85,-.55,-1.25,-.25,-1.35,-.2,-1.45,-.15,-1.6,-.6,-1.45,-.3,-.8,-.9,-1.35,-.45,-1.28,-.55,-1.15,-.5,-1.02,-.52,-.9,-.55,-1.38,-.65,-1.22,-.7,-1.1,-.62,-.98,-.6,-1.3,-.3,-1.18,-.32,-1.05,-.3,-.92,-.35,-1.4,-.38,-.88,-.72],
[250,-1.55,-.05,-1.45,.05,-1.35,-.05,-1.25,.05,-1.15,-.1,-1,-.15,-.85,-.3,-.8,-.15,-1.45,.2,-1.3,.2,-1.2,.2,-1.05,.15,-.9,.05,-.75,0,-1.35,.35,-1.2,.35,-1.05,.3,-.9,.25,-.75,.15,-1.5,.27,-1.4,-.08,-1.3,-.12,-1.18,0,-1.05,-.02,-.95,-.08,-1.42,.1,-1.28,.12,-1.12,.08,-1,.1,-.85,.15,-.68,.08,-1.25,.28,-1.12,.28,-.98,.2,-.85,.28],
[340,-1.45,1.08,-1.2,.98,-1,1.03,-.9,.95,-1.35,.78,-1.45,.75,-1.2,.8,-1.05,.85,-.9,.8,-.75,.85,-.6,1,-.45,1.02,-.35,1,-.25,1,-1.3,.6,-1.1,.65,-.95,.65,-.8,.65,-.65,.7,-.5,.75,-1,.5,-.85,.5,-.7,.5,-.55,.5,-.4,.55,-.25,.5,-.9,.35,-.75,.35,-.6,.4,-.45,.35,-.3,.35,-.15,.3,-.7,.2,-.55,.25,-1.55,.6,-1.25,.7,-1.05,.75,-.9,.7,-.75,.75,-.62,.82,-.5,.88,-1.12,.55,-.95,.55,-.8,.58,-.62,.58,-.5,.62,-.38,.65,-.85,.42,-.68,.4,-.55,.35,-.38,.45,-.25,.62,-.78,.95,-.68,.9,-1.1,.92],
[500,-.15,1,-.2,.75,-.1,.6,0,.5,.15,.45,-.1,.9,-.05,1.15,.05,1,.1,.85,-.05,.7,.1,.65,.25,.7,.3,.85,.2,1,.1,1.1,.05,.4,.3,.5,.2,.3,.35,.35,-.12,.78,-.22,.9,.02,.85,.18,.85,.28,.75,.02,.62,.18,.6,.28,.6,.38,.75,.12,.75,.22,.5,.38,.55,.1,.52,-.08,.45,.05,1,.32,1],
[590,-.2,1.35,-.1,1.38,0,1.3,.1,1.25,.25,1.63,.45,1.3,.35,1.2,.5,1.7,.55,1.6,.6,1.55,.5,1.45,.65,1.25,.75,1.2,.45,1.05,.6,1.05,.75,1,.45,.9,.6,.85,.75,.8,.9,.75,1,.7,.4,.7,.55,.65,.7,.6,.45,.5,1.12,1.12,.85,.95,.4,1,.55,.95,.65,.95,.38,1.15,.5,1.2,.62,1.15,.48,.78,.62,.75,.78,.9,.85,.82,.68,.68,.55,.75,.78,.68],
[700,.2,-.33,.3,.05,.4,-.2,.45,-.1,.5,.05,.35,.15,.5,.2,.65,.25,.8,.25,.65,.1,.8,.1,.9,0,.7,-.05,.55,-.25,.8,-.2,.9,-.35,.95,.35,1.05,-.25,1.15,-.4,1.15,.15,1.25,.1,1.25,-.1,.85,-.55,1,-.6,.9,-1.05,.92,-1.1,1.2,-.5,1.1,-.7,1.2,-1.15,.85,-.7,1.05,-.9,.4,-.02,.55,.12,.72,.15,.62,0,.75,-.12,.88,.1,.98,.12,1.02,-.1,.62,-.15,.92,-.18,1.05,-.42,1.18,-.18],
[810,1.5,.2,1.6,.28,1.75,.25,1.85,.65,1.5,.05,1.65,.05,1.35,-.05,1.8,0,1.95,-.05,1.95,-.2,2.05,-.35,2.1,-.5,2.15,-.65,2,-.55,1.85,-.45,1.75,-.35,2.05,-.75,1.9,-.8,1.75,-.85,1.6,-.9,1.45,-.95,1.85,-1,2,-1.1,2.15,-1.15,2.3,-1.1,2.15,-1.3,1.7,-1.15,1.55,-1.1,1.6,-1.3,1.45,-.85,1.62,-.25,1.75,-.12,1.88,-.12,1.8,-.45,1.92,-.5,2,-.42,1.68,-.42,1.55,-.62,1.72,-.98,1.88,-.88,2.05,-.95,1.95,-1,1.6,-1.08,1.42,-1.15,1.35,-.95],
[900,1.35,-1.1,1.5,-.7,1.35,-.7,1.3,-.55,1.65,-.7,1.8,-.65,1.95,-.65,1.4,-.4,1.55,-.2,1.7,-.2,1.85,-.25,1.25,-.35,1.25,-.85,1.55,-1.1,1.45,-1.3],
[975,1.15,-.65,1.25,-.7,1.3,-.2,1.4,-.15,1.4,-.25,1.5,-.3,1.6,-.35,1.45,-.5,1.55,-.5,1.65,-.55,1.35,-.5,1.4,-.6,1.5,-.65,1.6,-.75,1.7,-.75,1.2,-.8,1.35,-.85,1.45,-.75,1.55,-.85,1.3,-.95,1.45,-1.05,1.2,-.6,1.1,-.5,1.3,-.42,1.42,-.38,1.55,-.42,1.2,-.48,1.28,-.6,1.4,-.72,1.55,-.7,1.65,-.65,1.28,-.78,1.4,-.95,1.52,-.95,1.6,-.95,1.72,-.65]];

const felGrids=[felA,felB,felC,felD,felE,felF];
const pcaSets=[pcaA,pcaB,pcaC,pcaD,pcaE,pcaF];
const palettes=felLevels.map(n=>n===6?palette6:n===7?palette7:palette8);
// layout (pixels)
const colX=[31,283,534], colW=[156,156,157];
const felY=[56,460], pcaY=[244,648], pcaH=146, felH=145;
const tagBoxes=[[29,6,121,21,17.5],[281,6,121,21,17.5],[540,4,122,21,17.5],[29,409,121,21,17.5],[281,408,121,22,17.5],[540,407,122,21,17.5],
[9,821,98,18,14],[234,819,98,19,14],[473,821,99,18,14],[9,1039,98,18,14],[234,1039,98,18,14],[477,1038,98,18,14]];
const origin3d=[[68.3,863.3],[316,863.3],[565,863.3],[70.7,1087.3],[313.3,1087.3],[566,1088.3]];
const bar3d=[[219,888],[467,888],[716,888],[222,1112],[466,1112],[717,1112]];
const FONT="DejaVu Sans", INK="#3a3a3a", EDGE="#8a8a8a";
const stage=document.getElementById("stage");
function put(svg,x,y){Object.assign(svg.style,{position:"absolute",left:x+"px",top:y+"px",overflow:"visible",background:"transparent"});stage.append(svg);}
function grid(i){const R=felRows,C=felCols[i],top=felLevels[i]-1,g=new Array(R*C).fill(top);
  for(const [r,c,s] of felGrids[i]) for(let k=0;k<s.length;k++) if(c+k<C) g[r*C+c+k]=+s[k];
  return g;}
const label=(t,o)=>Plot.text([t],{text:d=>d,fill:INK,...o});
function colorbar(x,y,w,h,dom,ticks,fmt,bands,color,name,size,dist){
  put(Plot.plot({width:w+40,height:h,marginLeft:0,marginRight:40,marginTop:0,marginBottom:0,style:{fontFamily:FONT,color:INK},
    y:{domain:dom},color,
    marks:[Plot.rect(bands,{y1:"lo",y2:"hi",fill:"c"}),
      Plot.axisY({anchor:"right",ticks,tickFormat:fmt,tickSize:size>4?2:1,tickPadding:1,fontSize:size,label:null,fill:INK,stroke:INK,strokeWidth:.5}),
      Plot.frame({stroke:EDGE,strokeWidth:.8}),
      label(name,{frameAnchor:"right",dx:dist,rotate:size>4?-90:90,fontSize:size})]}),x,y);
}
function felPanel(i){
  const col=i%3,row=i<3?0:1,w=colW[col],h=felH,C=felCols[i],step=felSteps[i],n=felLevels[i],pal=palettes[i];
  const values=grid(i).map(d=>(d+.5)*step);
  const th=d3.range(n).map(k=>k*step);
  const [x0,x1]=rmsdDomains[i],[y0,y1]=rgDomains[i];
  const fy=felY[row]+(i===1?1:0);
  put(Plot.plot({width:w+40,height:h+40,marginLeft:30,marginRight:10,marginTop:20,marginBottom:20,style:{fontFamily:FONT,color:INK},
    x:{domain:[x0,x1]},y:{domain:[y0,y1]},color:{type:"threshold",domain:th.slice(1),range:pal},
    marks:[Plot.frame({fill:pal[n-1]}),
      Plot.contour(values,{width:C,height:felRows,x1:x0,x2:x1,y1:y1,y2:y0,value:Plot.identity,fill:"value",stroke:"none",thresholds:th,smooth:false}),
      Plot.frame({stroke:EDGE,strokeWidth:.9}),
      Plot.axisX({ticks:rmsdTicks[i],tickFormat:d3.format(i===2?".1f":".2f"),tickSize:2,tickPadding:1,fontSize:5.4,label:null,fill:INK,stroke:INK,strokeWidth:.5}),
      Plot.axisY({ticks:rgTicks[i],tickFormat:d3.format(".2f"),tickSize:2,tickPadding:1,fontSize:5.4,label:null,fill:INK,stroke:INK,strokeWidth:.5}),
      label("Free Energy Landscape",{frameAnchor:"top",dx:16,dy:-14,fontSize:11}),
      label("RMSD (nm)",{frameAnchor:"bottom",dy:15,fontSize:8.4}),
      label("RG (nm)",{frameAnchor:"left",dx:-23,rotate:-90,fontSize:8.4})]}),colX[col]-30,fy-20);
  const bands=pal.map((c,k)=>({lo:k*step,hi:(k+1)*step,c}));
  const ticks=d3.range(n+1).map(k=>k*step);
  colorbar(colX[col]+w+10-(col===1?1:0),(row?496:92),15,73,[0,n*step],ticks,d3.format(step===1?"d":".1f"),bands,{type:"identity"},"Gibbs Free Energy (kJ/mol)",5,16);
}
function pcaPanel(i){
  const col=i%3,row=i<3?0:1,w=colW[col],h=pcaH;
  const pts=[];
  for(const g of pcaSets[i]) for(let k=1;k+1<g.length;k+=2) pts.push({frame:g[0],x:g[k],y:g[k+1]});
  pts.sort((a,b)=>a.frame-b.frame);
  const xFmt=d3.format(i===5?".1f":"d"), yFmt=d3.format([1,4,5].includes(i)?".1f":"d");
  put(Plot.plot({width:w+40,height:h+40,marginLeft:30,marginRight:10,marginTop:20,marginBottom:20,style:{fontFamily:FONT,color:INK},
    x:{domain:pcaXDomains[i]},y:{domain:pcaYDomains[i]},color:{scheme:"viridis",domain:[0,1000]},
    marks:[Plot.dot(pts,{x:"x",y:"y",fill:"frame",r:2.35,stroke:"none"}),
      Plot.frame({stroke:EDGE,strokeWidth:.9}),
      Plot.axisX({ticks:pcaXTicks[i],tickFormat:xFmt,tickSize:2,tickPadding:1,fontSize:5,label:null,fill:INK,stroke:INK,strokeWidth:.5}),
      Plot.axisY({ticks:pcaYTicks[i],tickFormat:yFmt,tickSize:2,tickPadding:1,fontSize:5,label:null,fill:INK,stroke:INK,strokeWidth:.5}),
      label("Cartesian coordinate PCA",{frameAnchor:"top",dy:-6,fontSize:6.2}),
      label("PC2",{frameAnchor:"bottom",dy:13,fontSize:4.4}),
      label("PC1",{frameAnchor:"left",dx:-18,rotate:-90,fontSize:4.4})]}),colX[col]-30,pcaY[row]-20);
  const bands=d3.range(0,1000,10).map(v=>({lo:v,hi:v+10,c:v+5}));
  colorbar(colX[col]+w+10-(col===1?1:0),pcaY[row],7,h,[0,1000],[0,200,400,600,800,1000],d3.format("d"),bands,{scheme:"viridis",domain:[0,1000]},"Frame",5,23);
}
// view of the 3D box, relative to the plateau's far-left corner
const floorCorners=[[3.3,86.7],[100,98.3],[78.3,157.3],[-31.7,141.7]];
const topCorners=[[0,0],[105,12.7],[81.7,65],[-35,51.7]];
const boxBottom=[[-10,85],[110,91.7],[86.7,159],[-41.7,137.3]];
const boxTop=[[-8.3,-5],[114.3,10],[92,70],[-46.7,52.7]];
const OX=70,OY=30;
function bil(c,u,v){const f=(k)=>(1-v)*((1-u)*c[0][k]+u*c[1][k])+v*((1-u)*c[3][k]+u*c[2][k]);return [f(0),f(1)];}
function tri(a,b,u,v,w){const p=bil(a,u,v),q=bil(b,u,v);return {x:p[0]+(q[0]-p[0])*w+OX,y:p[1]+(q[1]-p[1])*w+OY};}
const D=(u,v,w)=>tri(floorCorners,topCorners,u,v,w), B=(u,v,w)=>tri(boxBottom,boxTop,u,v,w);
const jet=d3.piecewise(d3.interpolateRgb,jetStops);
function panel3d(i){
  const R=felRows,C=felCols[i],g=grid(i),n=felLevels[i],step=felSteps[i],zmax=n*step,pal=palettes[i],top=n-1;
  const zval=(r,c)=>{const d=g[r*C+c];return d===top?1:(d+.5)/n;};
  const polys=[];let id=0;
  const quad=(ps,c)=>{id++;for(const p of ps)polys.push({id,x:p.x,y:p.y,c});};
  quad([B(0,1,0),B(0,1,1),B(0,0,1),B(0,0,0)],"#f3f3f3");
  quad([B(0,0,0),B(0,0,1),B(1,0,1),B(1,0,0)],"#f8f8f8");
  quad([B(0,1,0),B(0,0,0),B(1,0,0),B(1,1,0)],"#ededed");
  const gl=[];let gid=0;
  const seg=(...ps)=>{gid++;for(const p of ps)gl.push({id:gid,x:p.x,y:p.y});};
  const [r0,r1]=rgDomains[i],[m0,m1]=rmsdDomains[i];
  const fu=t=>.03+.94*(t-r0)/(r1-r0),fv=t=>.03+.94*(t-m0)/(m1-m0);
  const zt=d3.range(0,zmax+.01,zmax>9?2:1).slice(0,zmax>9?6:Math.ceil(zmax)+1);
  const fw=z=>.92*z/zmax;
  for(const t of rg3dTicks[i]){seg(B(fu(t),1,0),B(fu(t),0,0),B(fu(t),0,1));}
  for(const t of rmsdTicks[i]){seg(B(1,fv(t),0),B(0,fv(t),0),B(0,fv(t),1));}
  for(const z of zt){seg(B(0,1,fw(z)),B(0,0,fw(z)),B(1,0,fw(z)));}
  const surf=[];let sid=0;
  const sq=(ps,c)=>{sid++;for(const p of ps)surf.push({id:sid,x:p.x,y:p.y,c});};
  sq([D(0,0,0),D(1,0,0),D(1,1,0),D(0,1,0)],pal[top]);
  for(let r=0;r<R;r++)for(let c=0;c<C;c++){const d=g[r*C+c];if(d===top)continue;
    const u1=1-r/R,u2=1-(r+1)/R,v1=c/C,v2=(c+1)/C;
    sq([D(u1,v1,0),D(u2,v1,0),D(u2,v2,0),D(u1,v2,0)],pal[d]);}
  const cells=[];
  for(let r=0;r<R-1;r++)for(let c=0;c<C-1;c++){
    const u1=1-r/(R-1),u2=1-(r+1)/(R-1),v1=c/(C-1),v2=(c+1)/(C-1);
    const z=[zval(r,c),zval(r+1,c),zval(r+1,c+1),zval(r,c+1)];
    cells.push({depth:(v1+v2)/2+.25*(u1+u2)/2,u1,u2,v1,v2,z,t:d3.mean(z)});}
  cells.sort((a,b)=>a.depth-b.depth);
  for(const q of cells){sq([D(q.u1,q.v1,q.z[0]),D(q.u2,q.v1,q.z[1]),D(q.u2,q.v2,q.z[2]),D(q.u1,q.v2,q.z[3])],jet(q.t));}
  const tk=[];
  for(const t of rg3dTicks[i]){const p=B(fu(t),1,0);tk.push({x:p.x,y:p.y+4.5,t:d3.format(".2f")(t)});}
  for(const t of rmsdTicks[i]){const p=B(1,fv(t),0);tk.push({x:p.x+6.5,y:p.y+1.5,t:d3.format(i===2?".1f":".2f")(t)});}
  for(const z of zt){const p=B(0,1,fw(z));tk.push({x:p.x-4,y:p.y,t:String(z)});}
  const lab=[{x:15+OX,y:157.5+OY,t:"RG (nm)",r:8,s:5},{x:100+OX,y:133+OY,t:"RMSD (nm)",r:-66,s:5},{x:-55.7+OX,y:96.7+OY,t:"Gibbs Free Energy (kJ/mol)",r:92,s:5}];
  put(Plot.plot({width:240,height:220,margin:0,style:{fontFamily:FONT,color:INK},
    x:{domain:[0,240],axis:null},y:{domain:[0,220],range:[0,220],axis:null},color:{type:"identity"},
    marks:[Plot.line(polys,{x:"x",y:"y",z:"id",fill:"c",stroke:"none",curve:"linear-closed"}),
      Plot.line(gl,{x:"x",y:"y",z:"id",stroke:"#dcdcdc",strokeWidth:.5}),
      Plot.line(surf,{x:"x",y:"y",z:"id",fill:"c",stroke:"c",strokeWidth:.7,curve:"linear-closed"}),
      Plot.text(tk,{x:"x",y:"y",text:"t",fontSize:3.4,fill:INK}),
      ...lab.map(l=>Plot.text([l],{x:"x",y:"y",text:"t",rotate:l.r,fontSize:l.s,fill:INK})),
      Plot.text([{x:30.5+OX,y:-17.5+OY,t:"Free Energy Landscape"}],{x:"x",y:"y",text:"t",fontSize:6.3,fill:INK})]}),
    origin3d[i][0]-OX,origin3d[i][1]-OY);
  const bands=d3.range(0,100).map(k=>({lo:k/100*zmax,hi:(k+1)/100*zmax,c:jet((k+.5)/100)}));
  const barTicks=zmax>9?[2,4,6,8,10]:d3.range(1,Math.floor(zmax)+(zmax===8?0:1));
  colorbar(bar3d[i][0],bar3d[i][1],20,100,[0,zmax],barTicks,d3.format("d"),bands,{type:"identity"},"Gibbs Free Energy (kJ/mol)",3,6);
}
for(const [k,t] of tagBoxes.entries()){const d=document.createElement("div");d.className="tag";d.textContent=names[k%6];
  Object.assign(d.style,{left:t[0]+"px",top:t[1]+"px",width:t[2]+"px",height:t[3]+"px",fontSize:t[4]+"px",lineHeight:(t[3]-2)+"px"});stage.append(d);}
for(let i=0;i<6;i++){felPanel(i);pcaPanel(i);panel3d(i);}
</script></body></html>
